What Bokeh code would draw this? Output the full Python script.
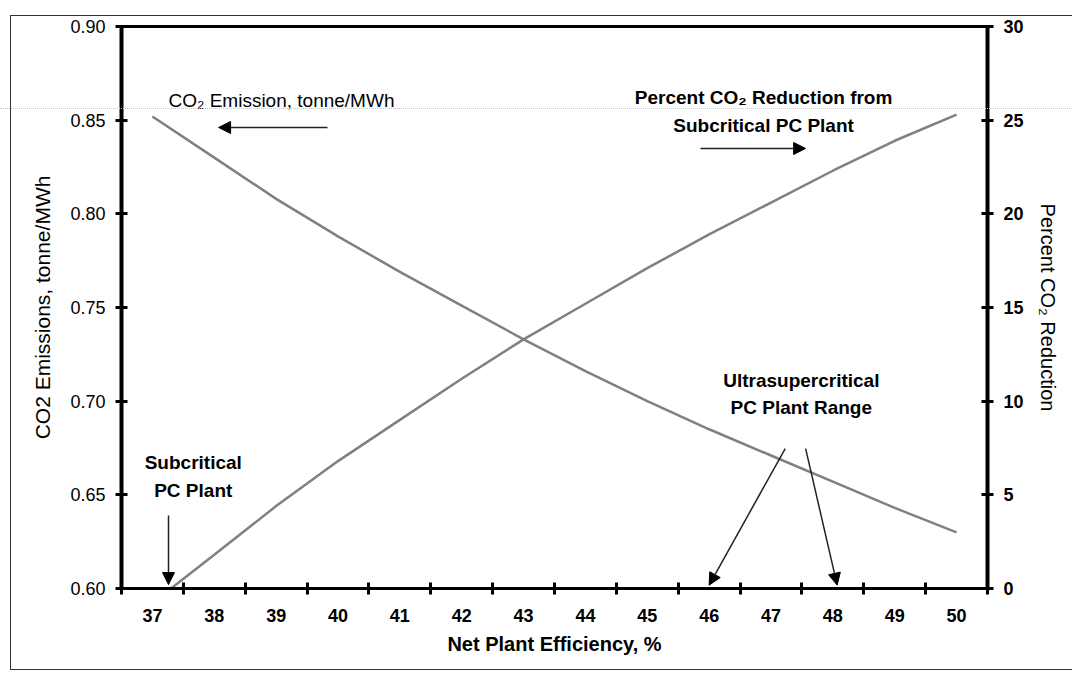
from bokeh.plotting import figure
from bokeh.models import (Range1d, LinearAxis, FixedTicker, Label, Arrow, NormalHead,
                          PrintfTickFormatter, InlineStyleSheet)
from bokeh.embed import file_html
from bokeh.resources import INLINE

# ---- data ----
efficiency = [37, 38, 39, 40, 41, 42, 43, 44, 45, 46, 47, 48, 49, 50]
x_tick_labels = ["37", "38", "39", "40", "41", "42", "43", "44", "45", "46", "47", "48", "49", "50"]
co2_emission = [0.852, 0.830, 0.808, 0.788, 0.769, 0.751, 0.733, 0.716, 0.700, 0.685, 0.671, 0.657, 0.643, 0.630]
reduction_efficiency = [37.3, 38, 39, 40, 41, 42, 43, 44, 45, 46, 47, 48, 49, 50]
co2_reduction = [0.0, 1.8, 4.4, 6.8, 9.0, 11.2, 13.3, 15.2, 17.1, 18.9, 20.6, 22.3, 23.9, 25.3]
left_ticks = [0.60, 0.65, 0.70, 0.75, 0.80, 0.85, 0.90]
right_ticks = [0, 5, 10, 15, 20, 25, 30]

FONT = "Liberation Sans"

p = figure(width=1072, height=672, output_backend="svg", toolbar_location=None,
           x_range=Range1d(efficiency[0] - 0.5, efficiency[-1] + 0.5),
           y_range=Range1d(left_ticks[0], left_ticks[-1]),
           min_border_left=121, min_border_right=85, min_border_top=26, min_border_bottom=84)
p.extra_y_ranges = {"pct": Range1d(right_ticks[0], right_ticks[-1])}

p.xgrid.visible = False
p.ygrid.visible = False
p.background_fill_color = "white"
p.border_fill_color = "white"
p.outline_line_color = "black"
p.outline_line_width = 3

# bottom axis: labels centred in category slots, tick marks on slot boundaries
xa = p.xaxis[0]
xa.ticker = FixedTicker(ticks=efficiency,
                        minor_ticks=[e - 0.5 for e in efficiency] + [efficiency[-1] + 0.5])
xa.major_label_overrides = {e: lab for e, lab in zip(efficiency, x_tick_labels)}
xa.major_tick_line_color = None
xa.minor_tick_line_color = "black"
xa.minor_tick_line_width = 3
xa.minor_tick_in = 6
xa.minor_tick_out = 6
xa.axis_line_width = 3
xa.axis_line_color = "black"
xa.major_label_text_font = FONT
xa.major_label_text_font_style = "bold"
xa.major_label_text_font_size = "18px"
xa.major_label_text_color = "black"
xa.major_label_standoff = 14
xa.axis_label = "Net Plant Efficiency, %"
xa.axis_label_text_font = FONT
xa.axis_label_text_font_style = "bold"
xa.axis_label_text_font_size = "20px"
xa.axis_label_text_color = "black"
xa.axis_label_standoff = 8

# left axis
ya = p.yaxis[0]
ya.ticker = FixedTicker(ticks=left_ticks)
ya.formatter = PrintfTickFormatter(format="%.2f")
ya.axis_line_width = 4
ya.axis_line_color = "black"
ya.major_tick_line_width = 3
ya.major_tick_line_color = "black"
ya.major_tick_in = 6
ya.major_tick_out = 6
ya.minor_tick_line_color = None
ya.major_label_text_font = FONT
ya.major_label_text_font_size = "18px"
ya.major_label_text_color = "black"
ya.major_label_standoff = 10
ya.axis_label = "CO2 Emissions, tonne/MWh"
ya.axis_label_text_font = FONT
ya.axis_label_text_font_style = "normal"
ya.axis_label_text_font_size = "21px"
ya.axis_label_text_color = "black"
ya.axis_label_standoff = 13

# right axis
ra = LinearAxis(y_range_name="pct", ticker=FixedTicker(ticks=right_ticks))
ra.axis_line_width = 4
ra.axis_line_color = "black"
ra.major_tick_line_width = 3
ra.major_tick_line_color = "black"
ra.major_tick_in = 6
ra.major_tick_out = 6
ra.minor_tick_line_color = None
ra.major_label_text_font = FONT
ra.major_label_text_font_style = "bold"
ra.major_label_text_font_size = "18px"
ra.major_label_text_color = "black"
ra.major_label_standoff = 10
ra.axis_label = "Percent CO\u2082 Reduction"
ra.axis_label_text_font = FONT
ra.axis_label_text_font_style = "normal"
ra.axis_label_text_font_size = "20px"
ra.axis_label_text_color = "black"
ra.axis_label_standoff = 10
p.add_layout(ra, "right")

# series
p.line(efficiency, co2_emission, line_color="#808080", line_width=2.5)
p.line(reduction_efficiency, co2_reduction, y_range_name="pct", line_color="#808080", line_width=2.5)

# annotations
def add_text(x, y, txt, bold=True, align="center"):
    p.add_layout(Label(x=x, y=y, text=txt, text_font=FONT, text_font_size="19px",
                       text_font_style="bold" if bold else "normal", text_color="black",
                       text_align=align, text_baseline="middle"))

def add_arrow(x0, y0, x1, y1):
    p.add_layout(Arrow(end=NormalHead(size=12, fill_color="black", line_color="black"),
                       x_start=x0, y_start=y0, x_end=x1, y_end=y1,
                       line_color="#222222", line_width=1.5))

add_text(37.26, 0.8605, "CO\u2082 Emission, tonne/MWh", bold=False, align="left")
add_arrow(39.83, 0.8461, 38.07, 0.8461)

add_text(46.88, 0.8621, "Percent CO\u2082 Reduction from")
add_text(46.88, 0.8472, "Subcritical PC Plant")
add_arrow(45.86, 0.8349, 47.56, 0.8349)

add_text(47.49, 0.7110, "Ultrasupercritical")
add_text(47.49, 0.6966, "PC Plant Range")
add_arrow(47.23, 0.6747, 46.0, 0.6018)
add_arrow(47.56, 0.6747, 48.07, 0.6018)

add_text(37.66, 0.6673, "Subcritical")
add_text(37.66, 0.6523, "PC Plant")
add_arrow(37.26, 0.6390, 37.26, 0.6021)

# outer frame of the scanned figure and a faint scan line
p.stylesheets = [InlineStyleSheet(css="""
:host { position: relative; }
:host::after { content: ""; position: absolute; left: 10px; top: 15px; right: -4px; bottom: 2px;
  border-left: 1.5px solid #333; border-top: 1.5px solid #333; border-bottom: 1.5px solid #333;
  box-sizing: border-box; pointer-events: none; z-index: 10; }
:host::before { content: ""; position: absolute; left: 0; right: 0; top: 108px; height: 0;
  border-top: 1px dotted #c8c8c8; pointer-events: none; z-index: 10; }
""")]

open("out.html", "w").write(file_html(p, INLINE))
